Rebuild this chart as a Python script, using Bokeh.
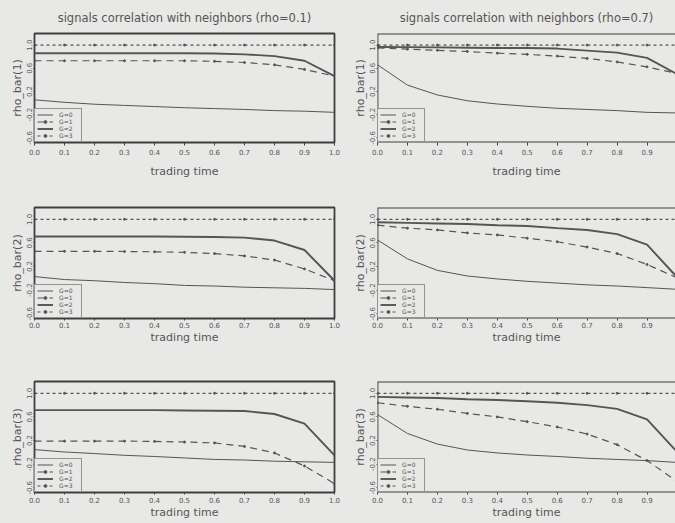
from bokeh.plotting import figure
from bokeh.layouts import column, row
from bokeh.models import Range1d, FixedTicker, Legend, LegendItem, Span
from bokeh.embed import file_html
from bokeh.resources import INLINE

# trading time grid
t = [0.0, 0.1, 0.2, 0.3, 0.4, 0.5, 0.6, 0.7, 0.8, 0.9, 1.0]

# rho = 0.1
r01_bar1_g0 = [0.056, 0.013, -0.02, -0.04, -0.06, -0.08, -0.095, -0.11, -0.13, -0.14, -0.16]
r01_bar1_g1 = [0.73, 0.73, 0.73, 0.73, 0.73, 0.73, 0.72, 0.70, 0.66, 0.58, 0.465]
r01_bar1_g2 = [0.86, 0.86, 0.86, 0.86, 0.86, 0.86, 0.855, 0.84, 0.81, 0.73, 0.465]
r01_bar1_g3 = [1.0] * 11

r01_bar2_g0 = [0.03, -0.02, -0.04, -0.07, -0.09, -0.12, -0.13, -0.15, -0.16, -0.17, -0.19]
r01_bar2_g1 = [0.457, 0.457, 0.457, 0.455, 0.45, 0.44, 0.42, 0.38, 0.31, 0.16, -0.04]
r01_bar2_g2 = [0.71, 0.71, 0.71, 0.71, 0.71, 0.705, 0.70, 0.69, 0.64, 0.48, -0.04]
r01_bar2_g3 = [1.0] * 11

r01_bar3_g0 = [0.046, 0.006, -0.02, -0.05, -0.07, -0.095, -0.12, -0.13, -0.15, -0.16, -0.17]
r01_bar3_g1 = [0.19, 0.19, 0.19, 0.19, 0.185, 0.175, 0.16, 0.10, -0.01, -0.23, -0.53]
r01_bar3_g2 = [0.715, 0.715, 0.715, 0.715, 0.715, 0.71, 0.705, 0.70, 0.65, 0.485, -0.05]
r01_bar3_g3 = [1.0] * 11

# rho = 0.7
r07_bar1_g0 = [0.66, 0.31, 0.14, 0.04, -0.016, -0.056, -0.09, -0.11, -0.13, -0.16, -0.17]
r07_bar1_g1 = [0.95, 0.93, 0.91, 0.89, 0.86, 0.84, 0.81, 0.77, 0.71, 0.625, 0.51]
r07_bar1_g2 = [0.966, 0.965, 0.96, 0.955, 0.95, 0.95, 0.94, 0.905, 0.87, 0.78, 0.50]
r07_bar1_g3 = [1.0] * 11

r07_bar2_g0 = [0.65, 0.33, 0.135, 0.04, -0.01, -0.05, -0.08, -0.11, -0.13, -0.157, -0.185]
r07_bar2_g1 = [0.90, 0.85, 0.82, 0.77, 0.735, 0.68, 0.62, 0.53, 0.42, 0.235, 0.01]
r07_bar2_g2 = [0.95, 0.94, 0.93, 0.92, 0.90, 0.886, 0.85, 0.82, 0.75, 0.57, 0.02]
r07_bar2_g3 = [1.0] * 11

r07_bar3_g0 = [0.64, 0.32, 0.14, 0.04, -0.01, -0.045, -0.07, -0.10, -0.12, -0.14, -0.17]
r07_bar3_g1 = [0.84, 0.78, 0.73, 0.66, 0.60, 0.52, 0.43, 0.31, 0.13, -0.14, -0.49]
r07_bar3_g2 = [0.94, 0.93, 0.92, 0.90, 0.886, 0.865, 0.84, 0.80, 0.736, 0.56, 0.01]
r07_bar3_g3 = [1.0] * 11

group_labels = ["G=0", "G=1", "G=2", "G=3"]
x_ticks = [0.0, 0.1, 0.2, 0.3, 0.4, 0.5, 0.6, 0.7, 0.8, 0.9, 1.0]
y_ticks = [-0.6, -0.2, 0.2, 0.6, 1.0]
titles = ["signals correlation with neighbors (rho=0.1)",
          "signals correlation with neighbors (rho=0.7)"]

BG = "#e8e8e6"
INK = "#555555"
FRAME = "#3e3e3e"
TXT = "#555555"
FONT = "DejaVu Sans"
Y0, Y1 = -0.68, 1.2

# per-row geometry: (height, top border, bottom border, tick standoff, tick out, label standoff)
ROWS = [(180, 32, 35, 3, 3, 7), (175, 27, 37, 1, 2, 0), (168, 26, 31, 2, 2, 0)]


def make_panel(series, bar_idx, col_idx, row_idx):
    height, b_top, b_bot, t_stand, t_out, l_stand = ROWS[row_idx]
    if col_idx == 0:
        width, b_left, b_right, x_end = 348, 34, 14, 1.0
    else:
        width, b_left, b_right, x_end = 327, 29, 0, 0.995
    p = figure(width=width, height=height, output_backend="svg", toolbar_location=None,
               x_range=Range1d(0.0, x_end), y_range=Range1d(Y0, Y1),
               min_border_left=b_left, min_border_right=b_right,
               min_border_top=b_top, min_border_bottom=b_bot,
               background_fill_color=BG, border_fill_color=BG,
               styles={"background-color": BG})
    p.grid.visible = False
    if row_idx == 0:
        p.title.text = titles[col_idx]
        p.title.align = "center"
        p.title.text_font = FONT
        p.title.text_font_size = "11.5px"
        p.title.text_font_style = "normal"
        p.title.text_color = TXT
        p.title.standoff = 17

    if col_idx == 0:
        p.outline_line_color = FRAME
        p.outline_line_width = 1.8
    else:
        # open on the right: the panel runs to the edge of the page
        p.outline_line_color = None
        for loc in (Y1, Y0):
            p.add_layout(Span(location=loc, dimension="width", line_color=FRAME, line_width=1.8))
        p.add_layout(Span(location=0.0, dimension="height", line_color=FRAME, line_width=1.8))

    g0, g1, g2, g3 = series
    r0 = p.line(t, g0, line_color=INK, line_width=1.0)
    r1 = p.line(t, g1, line_color=INK, line_width=1.2, line_dash="7 5")
    m1 = p.scatter(t, g1, marker="circle", size=2.0, fill_color=INK, line_color=INK)
    r2 = p.line(t, g2, line_color=INK, line_width=1.9)
    r3 = p.line(t, g3, line_color=INK, line_width=1.2, line_dash="3 3")
    m3 = p.scatter(t, g3, marker="circle", size=2.0, fill_color=INK, line_color=INK)

    legend = Legend(items=[LegendItem(label=group_labels[0], renderers=[r0]),
                           LegendItem(label=group_labels[1], renderers=[r1, m1]),
                           LegendItem(label=group_labels[2], renderers=[r2]),
                           LegendItem(label=group_labels[3], renderers=[r3, m3])],
                    location="bottom_left", margin=0, padding=2, spacing=0,
                    label_text_font=FONT, label_text_font_size="6px", label_text_color=TXT,
                    label_height=7, glyph_height=7, glyph_width=16, label_standoff=6,
                    border_line_color=FRAME, border_line_width=1.3,
                    background_fill_color=BG, background_fill_alpha=1.0)
    p.add_layout(legend)

    xa = p.xaxis[0]
    xa.ticker = FixedTicker(ticks=x_ticks)
    xa.axis_label = "trading time"
    xa.major_label_standoff = t_stand
    xa.major_tick_out = t_out
    xa.major_tick_in = 0
    xa.axis_label_standoff = l_stand
    xa.major_label_overrides = {v: f"{v:.1f}" for v in x_ticks}

    ya = p.yaxis[0]
    ya.ticker = FixedTicker(ticks=y_ticks)
    ya.axis_label = f"rho_bar({bar_idx})"
    ya.major_label_orientation = "vertical"
    ya.major_label_standoff = 1
    ya.major_tick_out = 1
    ya.major_tick_in = 0
    ya.axis_label_standoff = 0
    ya.major_label_overrides = {v: f"{v:.1f}" for v in y_ticks}

    for ax in (xa, ya):
        ax.axis_line_color = None
        ax.minor_tick_line_color = None
        ax.major_tick_line_color = FRAME
        ax.major_label_text_font = FONT
        ax.major_label_text_font_size = "7px"
        ax.major_label_text_color = TXT
        ax.axis_label_text_font = FONT
        ax.axis_label_text_font_size = "11px"
        ax.axis_label_text_font_style = "normal"
        ax.axis_label_text_color = TXT
    return p


left = [(r01_bar1_g0, r01_bar1_g1, r01_bar1_g2, r01_bar1_g3),
        (r01_bar2_g0, r01_bar2_g1, r01_bar2_g2, r01_bar2_g3),
        (r01_bar3_g0, r01_bar3_g1, r01_bar3_g2, r01_bar3_g3)]
right = [(r07_bar1_g0, r07_bar1_g1, r07_bar1_g2, r07_bar1_g3),
         (r07_bar2_g0, r07_bar2_g1, r07_bar2_g2, r07_bar2_g3),
         (r07_bar3_g0, r07_bar3_g1, r07_bar3_g2, r07_bar3_g3)]

rows = []
for i in range(3):
    rows.append(row(make_panel(left[i], i + 1, 0, i), make_panel(right[i], i + 1, 1, i),
                    spacing=0, styles={"background-color": BG}))
layout = column(*rows, spacing=0, styles={"background-color": BG})

open("out.html", "w").write(file_html(layout, INLINE))
